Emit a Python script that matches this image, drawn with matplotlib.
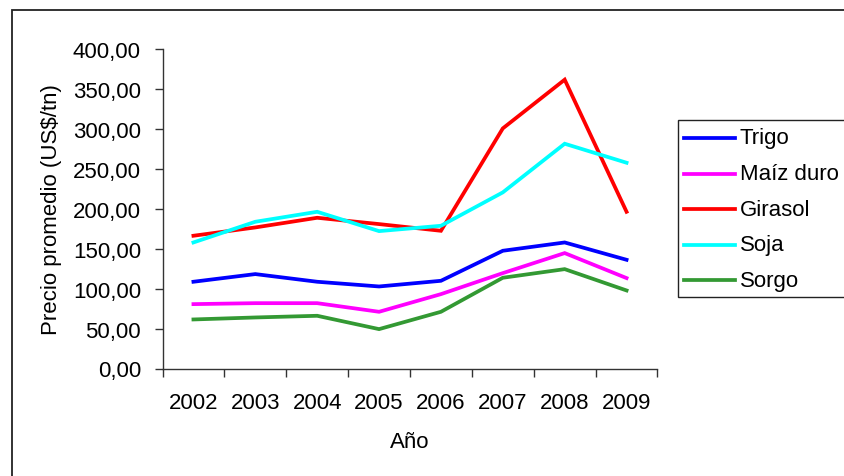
import matplotlib
matplotlib.use("Agg")
import matplotlib.pyplot as plt
from matplotlib.patches import Rectangle
from matplotlib.lines import Line2D

plt.rcParams['font.family'] = ['Liberation Sans', 'DejaVu Sans']

years = ["2002", "2003", "2004", "2005", "2006", "2007", "2008", "2009"]
trigo = [108.6, 118.2, 108.6, 102.7, 109.8, 147.4, 157.8, 136.1]
maiz_duro = [80.6, 81.8, 81.8, 71.0, 93.1, 119.4, 144.5, 113.2]
girasol = [166.2, 176.6, 188.7, 180.8, 172.4, 300.6, 361.6, 196.2]
soja = [157.8, 183.7, 196.2, 172.0, 178.7, 220.5, 281.4, 257.6]
sorgo = [61.4, 63.9, 66.0, 49.3, 71.0, 113.6, 124.4, 97.7]

series_names = ["Trigo", "Maíz duro", "Girasol", "Soja", "Sorgo"]
series_values = [trigo, maiz_duro, girasol, soja, sorgo]
series_colors = ["#0000FF", "#FF00FF", "#FF0000", "#00FFFF", "#339933"]

FS = 16
LW = 2.7

W, H = 845, 477
fig = plt.figure(figsize=(W / 100, H / 100), dpi=100)

# plot area in pixel coordinates
x0, x1 = 162.5, 657.5
y_top, y_bot = 50, 369.5
ax = fig.add_axes([x0 / W, 1 - y_bot / H, (x1 - x0) / W, (y_bot - y_top) / H])

xs = range(len(years))
for name, vals, col in zip(series_names, series_values, series_colors):
    ax.plot(xs, vals, color=col, lw=LW, label=name, solid_joinstyle='miter')

ax.set_xlim(-0.5, len(years) - 0.5)
ax.set_ylim(0, 400)
ax.set_yticks(range(0, 401, 50))
ax.set_yticklabels([f"{v},00" for v in range(0, 401, 50)], fontsize=FS)
ax.set_xticks(xs)
ax.set_xticklabels(years, fontsize=FS)
ax.set_xticks([i - 0.5 for i in range(len(years) + 1)], minor=True)
ax.tick_params(axis='x', which='major', length=0, pad=17)
ax.tick_params(axis='x', which='minor', length=6, width=1, color='#333333')
ax.tick_params(axis='y', which='major', length=6, width=1, color='#333333', pad=9.5)

for side in ['top', 'right']:
    ax.spines[side].set_visible(False)
for side in ['left', 'bottom']:
    ax.spines[side].set_color('#333333')
    ax.spines[side].set_linewidth(1)

ax.set_xlabel("Año", fontsize=FS, labelpad=13)
ax.set_ylabel("Precio promedio (US$/tn)", fontsize=FS, labelpad=8)

# outer chart border (only top/left edges fall inside the image)
fig.patches.append(Rectangle((12 / W, -0.2), 1.2, 1 - 11 / H + 0.2,
                             transform=fig.transFigure, fill=False,
                             edgecolor='#222222', lw=1.3, clip_on=False))

# legend box
fig.patches.append(Rectangle((678 / W, 1 - 298 / H), 0.5, (298 - 121) / H,
                             transform=fig.transFigure, fill=True, facecolor='white',
                             edgecolor='#222222', lw=1.0, clip_on=False))
row_y = [139, 174.5, 210, 245.5, 281]
for name, col, ry in zip(series_names, series_colors, row_y):
    fy = 1 - ry / H
    fig.lines.append(Line2D([684 / W, 735 / W], [fy, fy], color=col, lw=LW,
                            transform=fig.transFigure))
    fig.text(740 / W, fy, name, fontsize=FS, va='center', ha='left')

fig.savefig("out.png", dpi=100)
